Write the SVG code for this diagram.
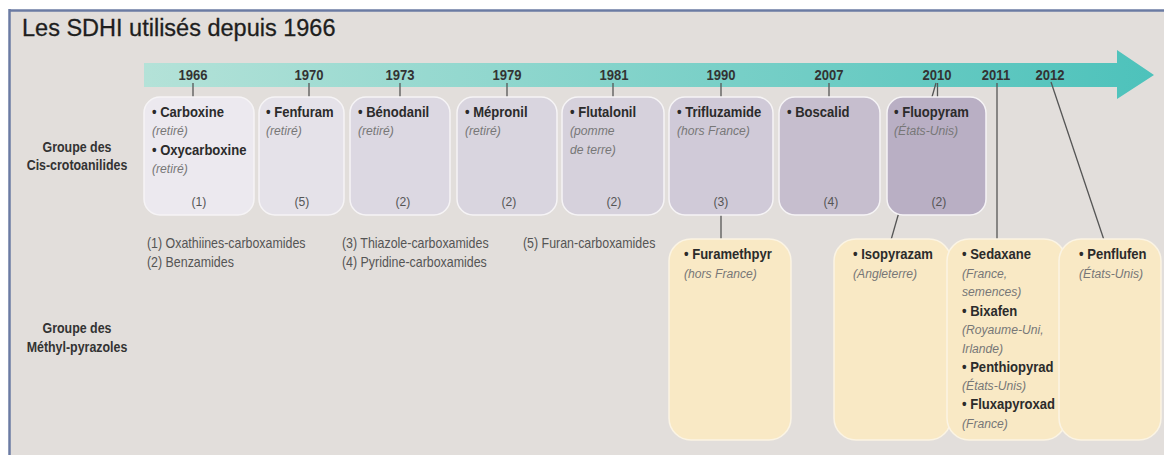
<svg xmlns="http://www.w3.org/2000/svg" width="1164" height="455" viewBox="0 0 1164 455">
<defs>
<linearGradient id="band" x1="0" y1="0" x2="1" y2="0">
<stop offset="0" stop-color="#b4e2d8"/>
<stop offset="1" stop-color="#4dc2bb"/>
</linearGradient>
<style>
.t{font-family:"Liberation Sans",Arial,sans-serif;transform-box:fill-box;transform-origin:0% 50%;transform:scaleX(0.9);}
.yr,.num,.grp{transform-origin:50% 50%;}
.yr{font-size:14.5px;font-weight:bold;fill:#333;text-anchor:middle;}
.nm{font-size:14.5px;font-weight:bold;fill:#2b2b2b;}
.it{font-size:13.5px;font-style:italic;fill:#777;}
.num{font-size:13.5px;fill:#555;text-anchor:middle;}
.lg{font-size:13.8px;fill:#555;}
.grp{font-size:13.8px;font-weight:bold;fill:#333;text-anchor:middle;}
.box{stroke:#f6f4f6;stroke-width:1.5;}
.cream{fill:#f9e9c5;stroke:#fbf4e4;stroke-width:1.5;}
.ln{stroke:#555;stroke-width:1.3;fill:none;}
</style>
</defs>
<rect x="0" y="0" width="1164" height="455" fill="#ffffff"/>
<rect x="10" y="10" width="1154" height="445" fill="#e2dedb"/>
<line x1="9" y1="10.5" x2="1164" y2="10.5" stroke="#6b7ba3" stroke-width="2.5"/>
<line x1="9.5" y1="9" x2="9.5" y2="455" stroke="#6b7ba3" stroke-width="2.5"/>
<text x="22" y="36" style="font-family:'Liberation Sans',Arial,sans-serif;font-size:23.5px;fill:#1e1e1e;stroke:#1e1e1e;stroke-width:0.3">Les SDHI utilisés depuis 1966</text>
<g id="timeline">
<path d="M144 63 H1117 V50 L1154 75 L1117 99 V87 H144 Z" fill="url(#band)"/>
<text class="t yr" x="193" y="80">1966</text>
<text class="t yr" x="309" y="80">1970</text>
<text class="t yr" x="400" y="80">1973</text>
<text class="t yr" x="507" y="80">1979</text>
<text class="t yr" x="614" y="80">1981</text>
<text class="t yr" x="721" y="80">1990</text>
<text class="t yr" x="829" y="80">2007</text>
<text class="t yr" x="937" y="80">2010</text>
<text class="t yr" x="996" y="80">2011</text>
<text class="t yr" x="1050" y="80">2012</text>
</g>
<g id="connectors">
<line class="ln" x1="193" y1="83" x2="193" y2="98"/>
<line class="ln" x1="309" y1="83" x2="309" y2="98"/>
<line class="ln" x1="400" y1="83" x2="400" y2="98"/>
<line class="ln" x1="507" y1="83" x2="507" y2="98"/>
<line class="ln" x1="613" y1="83" x2="613" y2="98"/>
<line class="ln" x1="721" y1="83" x2="721" y2="98"/>
<line class="ln" x1="829" y1="83" x2="829" y2="98"/>
<line class="ln" x1="937.5" y1="83" x2="937.5" y2="98"/>
<line class="ln" x1="936" y1="83" x2="891" y2="240"/>
<line class="ln" x1="721" y1="214" x2="721" y2="240"/>
<line class="ln" x1="997" y1="83" x2="997" y2="240"/>
<line class="ln" x1="1051" y1="82" x2="1104" y2="240"/>
</g>
<g id="group-labels">
<text class="t grp" x="77" y="152">Groupe des</text>
<text class="t grp" x="77" y="170">Cis-crotoanilides</text>
<text class="t grp" x="77" y="333">Groupe des</text>
<text class="t grp" x="77" y="352">Méthyl-pyrazoles</text>
</g>
<g id="n-carboxine">
<rect class="box" x="144" y="97" width="110" height="118" rx="16" fill="#ece9ef"/>
<text class="t nm" x="152" y="117">• Carboxine</text>
<text class="t it" x="152" y="135">(retiré)</text>
<text class="t nm" x="152" y="155">• Oxycarboxine</text>
<text class="t it" x="152" y="173">(retiré)</text>
<text class="t num" x="199" y="206">(1)</text>
</g>
<g id="n-fenfuram">
<rect class="box" x="259" y="97" width="85" height="118" rx="16" fill="#e5e2e9"/>
<text class="t nm" x="266" y="117">• Fenfuram</text>
<text class="t it" x="266" y="135">(retiré)</text>
<text class="t num" x="302" y="206">(5)</text>
</g>
<g id="n-benodanil">
<rect class="box" x="350" y="97" width="100" height="118" rx="16" fill="#dcd8e2"/>
<text class="t nm" x="358" y="117">• Bénodanil</text>
<text class="t it" x="358" y="135">(retiré)</text>
<text class="t num" x="403" y="206">(2)</text>
</g>
<g id="n-mepronil">
<rect class="box" x="457" y="97" width="100" height="118" rx="16" fill="#d9d5df"/>
<text class="t nm" x="465" y="117">• Mépronil</text>
<text class="t it" x="465" y="135">(retiré)</text>
<text class="t num" x="509" y="206">(2)</text>
</g>
<g id="n-flutalonil">
<rect class="box" x="562" y="97" width="102" height="118" rx="16" fill="#d6d1dc"/>
<text class="t nm" x="570" y="117">• Flutalonil</text>
<text class="t it" x="570" y="135">(pomme</text>
<text class="t it" x="570" y="154">de terre)</text>
<text class="t num" x="614" y="206">(2)</text>
</g>
<g id="n-trifluzamide">
<rect class="box" x="669" y="97" width="104" height="118" rx="16" fill="#d0cad8"/>
<text class="t nm" x="677" y="117">• Trifluzamide</text>
<text class="t it" x="677" y="135">(hors France)</text>
<text class="t num" x="721" y="206">(3)</text>
</g>
<g id="n-boscalid">
<rect class="box" x="779" y="97" width="101" height="118" rx="16" fill="#c6bece"/>
<text class="t nm" x="787" y="117">• Boscalid</text>
<text class="t num" x="831" y="206">(4)</text>
</g>
<g id="n-fluopyram">
<rect class="box" x="887" y="97" width="99" height="118" rx="16" fill="#b9afc4"/>
<text class="t nm" x="894" y="117">• Fluopyram</text>
<text class="t it" x="894" y="135">(États-Unis)</text>
<text class="t num" x="939" y="206">(2)</text>
</g>
<g id="legend">
<text class="t lg" x="147" y="248">(1) Oxathiines-carboxamides</text>
<text class="t lg" x="147" y="267">(2) Benzamides</text>
<text class="t lg" x="342" y="248">(3) Thiazole-carboxamides</text>
<text class="t lg" x="342" y="267">(4) Pyridine-carboxamides</text>
<text class="t lg" x="523" y="248">(5) Furan-carboxamides</text>
</g>
<g id="n-furamethpyr">
<rect class="cream" x="669" y="239" width="122" height="201" rx="22"/>
<text class="t nm" x="684" y="259">• Furamethpyr</text>
<text class="t it" x="684" y="278">(hors France)</text>
</g>
<g id="n-isopyrazam">
<rect class="cream" x="834" y="239" width="117" height="201" rx="22"/>
<text class="t nm" x="853" y="259">• Isopyrazam</text>
<text class="t it" x="853" y="278">(Angleterre)</text>
</g>
<g id="n-sedaxane">
<rect class="cream" x="947" y="239" width="119" height="201" rx="22"/>
<text class="t nm" x="962" y="259">• Sedaxane</text>
<text class="t it" x="962" y="278">(France,</text>
<text class="t it" x="962" y="296">semences)</text>
<text class="t nm" x="962" y="316">• Bixafen</text>
<text class="t it" x="962" y="334">(Royaume-Uni,</text>
<text class="t it" x="962" y="353">Irlande)</text>
<text class="t nm" x="962" y="372">• Penthiopyrad</text>
<text class="t it" x="962" y="390">(États-Unis)</text>
<text class="t nm" x="962" y="409">• Fluxapyroxad</text>
<text class="t it" x="962" y="428">(France)</text>
</g>
<g id="n-penflufen">
<rect class="cream" x="1059" y="239" width="102" height="201" rx="22"/>
<text class="t nm" x="1079" y="259">• Penflufen</text>
<text class="t it" x="1079" y="278">(États-Unis)</text>
</g>
</svg>
